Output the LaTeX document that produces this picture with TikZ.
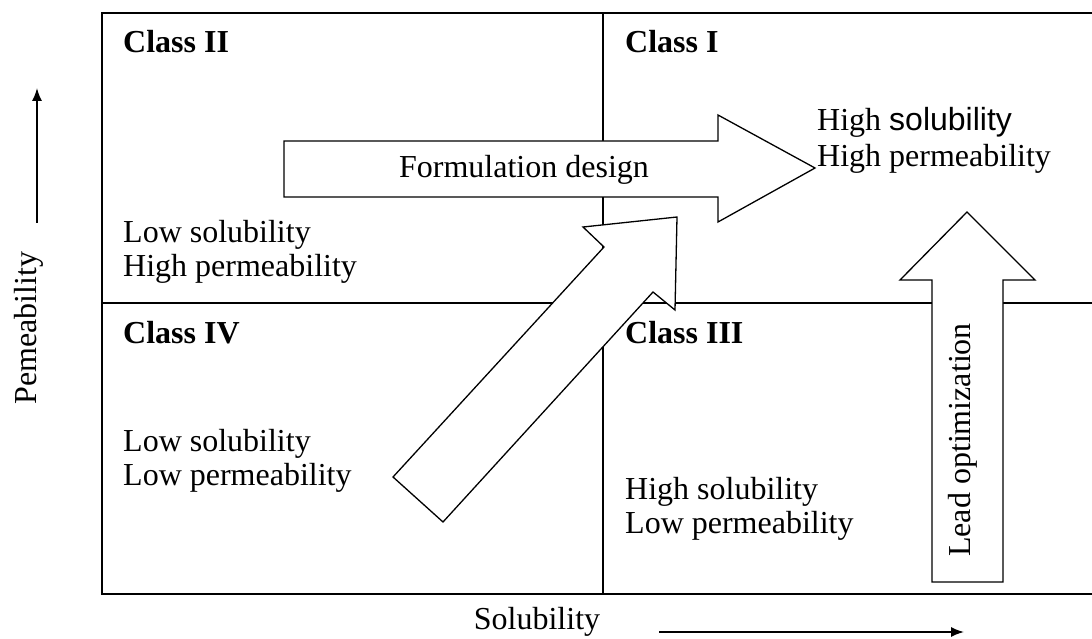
\documentclass[tikz,border=0pt]{standalone}
\usepackage{fontspec}
\setmainfont{Liberation Serif}
\newfontfamily\arialfont{Liberation Sans}
\usetikzlibrary{arrows.meta}

\begin{document}
\begin{tikzpicture}
	[x=1pt,y=-1pt,every node/.style={inner sep=0pt,font=\fontsize{32}{34}\selectfont},
	 cls/.style={anchor=base west,font=\fontsize{32}{34}\selectfont\bfseries},
	 lbl/.style={anchor=north west,align=left},
	 blk/.style={draw=black,fill=white,line width=1.3pt,line join=miter},
	 axis/.style={line width=1.6pt,-{Latex[length=13pt,width=10pt]}}]
	\useasboundingbox (0,0) rectangle (1092,639);
	
	\draw[line width=1.6pt] (1092,13) -- (102,13) -- (102,594) -- (1092,594);
	\draw[line width=1.3pt] (102,303) -- (1092,303) (603,13) -- (603,594);
	
	\draw[blk] (284,141) -- (718,141) -- (718,115) -- (815,168) -- (718,222) -- (718,197) -- (284,197) -- cycle;
	\draw[blk] (393,477) -- (604,247) -- (583,227) -- (677,217) -- (675,310) -- (653,292) -- (443,522) -- cycle;
	\draw[blk] (932,582) -- (932,280) -- (900,280) -- (967,212) -- (1035,280) -- (1003,280) -- (1003,582) -- cycle;
	
	\node (form) at (524,170) {Formulation design};
	\node[rotate=90] (lead) at (963,440) {Lead optimization};
	
	\node[cls] (c2) at (123,53)  {Class II};
	\node[cls] (c1) at (625,53)  {Class I};
	\node[cls] (c4) at (123,343) {Class IV};
	\node[cls] (c3) at (625,343) {Class III};
	
	\node[lbl] (t2) at (123,220) {Low solubility\\High permeability};
	\node[lbl] (t4) at (123,429) {Low solubility\\Low permeability};
	\node[lbl] (t3) at (625,477) {High solubility\\Low permeability};
	\node[lbl,font=\fontsize{32}{36}\selectfont] (t1) at (817,107) {High {\arialfont solubility}\\High permeability};
	
	\node[rotate=90] (perm) at (29,328) {Pemeability};
	\node (sol) at (537,622) {Solubility};
	
	\coordinate (p0) at (37,223);
	\coordinate (p1) at (37,88);
	\coordinate (s0) at (659,632);
	\coordinate (s1) at (964,632);
	\foreach \from/\to in {p0/p1,s0/s1}
	\draw[axis] (\from) -- (\to);
	
\end{tikzpicture}
\end{document}
